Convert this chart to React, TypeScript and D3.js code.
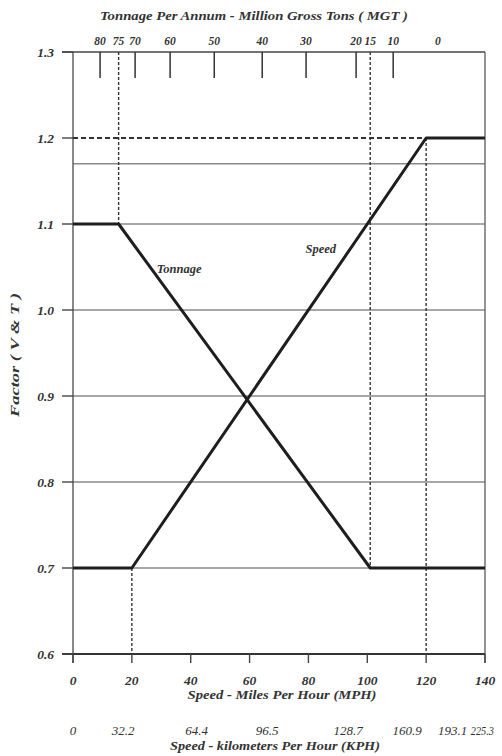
import React, { useEffect, useRef } from "react";
import * as d3 from "d3";

// speed axis (MPH) and factor axis
const mphTicks = [0, 20, 40, 60, 80, 100, 120, 140];
const factorTicks = [0.6, 0.7, 0.8, 0.9, 1.0, 1.1, 1.2, 1.3];
const gridFactors = [0.7, 0.8, 0.9, 1.0, 1.1, 1.17];

// KPH row, label text and where it sits (in MPH units)
const kphLabels = ["0", "32.2", "64.4", "96.5", "128.7", "160.9", "193.1", "225.3"];
const kphAt = [0, 17, 42, 66, 93.5, 113.5, 129, 143];

// top tonnage axis: MGT value and matching MPH position
const mgtTicks = [80, 75, 70, 60, 50, 40, 30, 20, 15, 10, 0];
const mgtAtMph = [9.2, 15.5, 21.1, 33, 48, 64.3, 79.2, 96.2, 101, 108.8, 124];
const mgtDashed = [75, 15];
const mgtNoTick = [0];

// factor curves
const tonnageX = [0, 15.5, 101, 140];
const tonnageY = [1.1, 1.1, 0.7, 0.7];
const speedX = [0, 20, 120, 140];
const speedY = [0.7, 0.7, 1.2, 1.2];

const FONT = "'Liberation Serif', 'Times New Roman', serif";

const FactorChart = () => {
  const ref = useRef(null);

  useEffect(() => {
    if (!ref.current) return;
    d3.select(ref.current).selectAll("*").remove();

    const width = 502;
    const height = 756;
    const left = 73, right = 485, top = 52, bottom = 654;

    const svg = d3
      .select(ref.current)
      .append("svg")
      .attr("width", width)
      .attr("height", height)
      .style("position", "absolute")
      .style("left", 0)
      .style("top", 0)
      .style("background", "#fff");

    const x = d3.scaleLinear().domain([0, 140]).range([left, right]);
    const y = d3.scaleLinear().domain([0.6, 1.3]).range([bottom, top]);

    const ink = "#1e1e1e";
    const grid = "#8a8a8a";

    const txt = (sel, size, bold = true) =>
      sel
        .style("font-family", FONT)
        .style("font-style", "italic")
        .style("font-weight", bold ? "bold" : "normal")
        .style("font-size", size + "px")
        .attr("fill", "#333");

    // horizontal grid
    svg
      .selectAll("line.grid")
      .data(gridFactors)
      .join("line")
      .attr("class", "grid")
      .attr("x1", left)
      .attr("x2", right)
      .attr("y1", (d) => y(d))
      .attr("y2", (d) => y(d))
      .attr("stroke", grid)
      .attr("stroke-width", 1.4);

    // frame
    svg.append("line").attr("x1", left).attr("x2", left).attr("y1", top).attr("y2", bottom + 9)
      .attr("stroke", "#555").attr("stroke-width", 1.4);
    svg.append("line").attr("x1", right).attr("x2", right).attr("y1", top).attr("y2", bottom + 9)
      .attr("stroke", "#666").attr("stroke-width", 1.4);
    svg.append("line").attr("x1", left - 11).attr("x2", right).attr("y1", top).attr("y2", top)
      .attr("stroke", "#444").attr("stroke-width", 1.6);
    svg.append("line").attr("x1", left - 11).attr("x2", right).attr("y1", bottom).attr("y2", bottom)
      .attr("stroke", "#333").attr("stroke-width", 1.8);

    // left ticks + labels
    svg
      .selectAll("line.ytick")
      .data(factorTicks)
      .join("line")
      .attr("class", "ytick")
      .attr("x1", left - 11)
      .attr("x2", left)
      .attr("y1", (d) => y(d))
      .attr("y2", (d) => y(d))
      .attr("stroke", "#444")
      .attr("stroke-width", 1.4);

    svg
      .selectAll("text.ylab")
      .data(factorTicks)
      .join("text")
      .attr("class", "ylab")
      .attr("x", 54)
      .attr("y", (d) => y(d) + 5)
      .attr("text-anchor", "end")
      .call(txt, 13.5)
      .text((d) => d3.format(".1f")(d));

    svg
      .append("text")
      .attr("transform", `translate(19,355) rotate(-90)`)
      .attr("text-anchor", "middle")
      .attr("textLength", 124)
      .attr("lengthAdjust", "spacingAndGlyphs")
      .call(txt, 13)
      .text("Factor ( V & T )");

    // bottom ticks + labels
    svg
      .selectAll("line.xtick")
      .data(mphTicks)
      .join("line")
      .attr("class", "xtick")
      .attr("x1", (d) => x(d))
      .attr("x2", (d) => x(d))
      .attr("y1", bottom)
      .attr("y2", bottom + 9)
      .attr("stroke", "#444")
      .attr("stroke-width", 1.4);

    svg
      .selectAll("text.xlab")
      .data(mphTicks)
      .join("text")
      .attr("class", "xlab")
      .attr("x", (d) => x(d))
      .attr("y", 685)
      .attr("text-anchor", "middle")
      .call(txt, 13.5)
      .text((d) => d);

    svg
      .append("text")
      .attr("x", 282)
      .attr("y", 699)
      .attr("text-anchor", "middle")
      .attr("textLength", 189)
      .attr("lengthAdjust", "spacingAndGlyphs")
      .call(txt, 13)
      .text("Speed - Miles Per Hour (MPH)");

    const last = kphLabels.length - 1;
    svg
      .selectAll("text.kph")
      .data(kphLabels)
      .join("text")
      .attr("class", "kph")
      .attr("x", (d, i) => x(kphAt[i]))
      .attr("y", 735)
      .attr("text-anchor", (d, i) => (i === last ? "end" : "middle"))
      .call(txt, 13, false)
      .each(function (d, i) {
        if (i === last) d3.select(this).attr("textLength", 23).attr("lengthAdjust", "spacingAndGlyphs");
      })
      .text((d) => d);

    svg
      .append("text")
      .attr("x", 275)
      .attr("y", 750)
      .attr("text-anchor", "middle")
      .attr("textLength", 210)
      .attr("lengthAdjust", "spacingAndGlyphs")
      .call(txt, 13)
      .text("Speed - kilometers Per Hour (KPH)");

    // top tonnage axis
    const mgt = mgtTicks.map((v, i) => ({ v, m: mgtAtMph[i] }));
    svg
      .selectAll("line.ttick")
      .data(mgt.filter((d) => !mgtDashed.includes(d.v) && !mgtNoTick.includes(d.v)))
      .join("line")
      .attr("class", "ttick")
      .attr("x1", (d) => x(d.m))
      .attr("x2", (d) => x(d.m))
      .attr("y1", top)
      .attr("y2", top + 26)
      .attr("stroke", "#333")
      .attr("stroke-width", 1.5);

    svg
      .selectAll("text.tlab")
      .data(mgt)
      .join("text")
      .attr("class", "tlab")
      .attr("x", (d) => x(d.m))
      .attr("y", 45)
      .attr("text-anchor", "middle")
      .call(txt, 11.5)
      .text((d) => d.v);

    svg
      .append("text")
      .attr("x", 254)
      .attr("y", 20)
      .attr("text-anchor", "middle")
      .attr("textLength", 308)
      .attr("lengthAdjust", "spacingAndGlyphs")
      .call(txt, 12.5)
      .text("Tonnage Per Annum - Million Gross Tons ( MGT )");

    // dashed guides
    const dash = (x1, y1, x2, y2) =>
      svg
        .append("line")
        .attr("x1", x1)
        .attr("y1", y1)
        .attr("x2", x2)
        .attr("y2", y2)
        .attr("stroke", "#333")
        .attr("stroke-width", 1.4)
        .attr("stroke-dasharray", "3,2");

    dash(x(tonnageX[1]), top, x(tonnageX[1]), y(tonnageY[1]));
    dash(x(tonnageX[2]), top, x(tonnageX[2]), y(tonnageY[2]));
    dash(x(speedX[1]), y(speedY[1]), x(speedX[1]), bottom);
    dash(x(speedX[2]), y(speedY[2]), x(speedX[2]), bottom);
    dash(left, y(speedY[2]), x(speedX[2]), y(speedY[2])).attr("stroke-width", 2).attr("stroke-dasharray", "5,3");

    // factor curves
    const line = d3.line().x((d) => x(d[0])).y((d) => y(d[1]));
    const curves = [
      { name: "Tonnage", pts: tonnageX.map((v, i) => [v, tonnageY[i]]) },
      { name: "Speed", pts: speedX.map((v, i) => [v, speedY[i]]) },
    ];
    svg
      .selectAll("path.curve")
      .data(curves)
      .join("path")
      .attr("class", "curve")
      .attr("d", (d) => line(d.pts))
      .attr("fill", "none")
      .attr("stroke", ink)
      .attr("stroke-width", 3)
      .attr("stroke-linejoin", "round");

    svg.append("text").attr("x", x(28.5)).attr("y", y(1.043)).call(txt, 12.5).text("Tonnage");
    svg.append("text").attr("x", x(79)).attr("y", y(1.066)).call(txt, 12.5).text("Speed");
  }, []);

  return <div ref={ref} style={{ width: "502px", height: "756px" }}></div>;
};

export default function App() {
  return <FactorChart />;
}
